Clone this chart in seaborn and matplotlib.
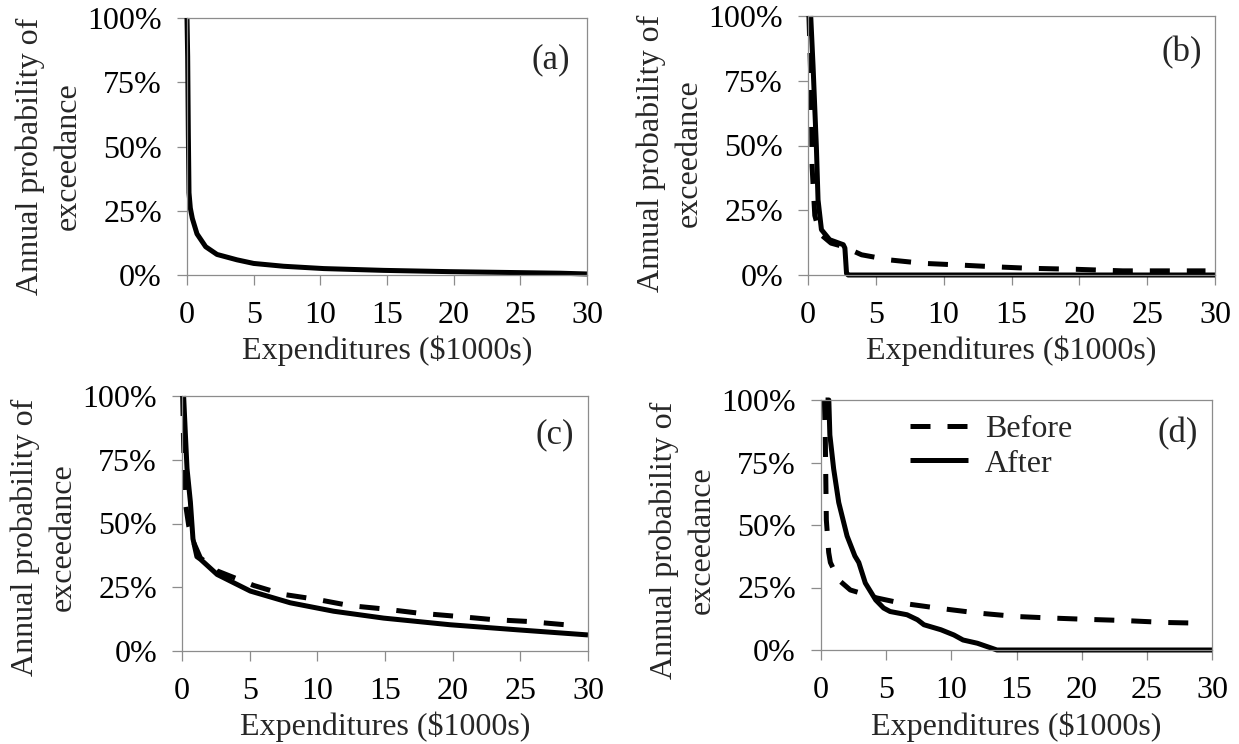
import numpy as np
import pandas as pd
import matplotlib
matplotlib.use("Agg")
import matplotlib.pyplot as plt
from matplotlib.lines import Line2D
from matplotlib.ticker import FuncFormatter
import seaborn as sns

sns.set_style("white")
plt.rcParams['font.family'] = ['Liberation Serif', 'DejaVu Serif']

# ---------------- data (x in $1000s, y in % annual exceedance probability) -------------
a_after_x = [0.0, 0.05, 0.1, 0.15, 0.25, 0.4, 0.75, 1.4, 2.25, 3.75, 5.0, 7.25, 10.25, 14.75, 19.75, 28.0, 30.0]
a_after_y = [100, 85, 55, 32, 26, 22, 16, 11, 8, 5.9, 4.5, 3.4, 2.5, 1.8, 1.3, 0.7, 0.4]

b_before_x = [0.07, 0.25, 0.3, 0.5, 0.86, 1.7, 2.6, 3.95, 6.05, 8.5, 11.0, 13.6, 16.3, 19.75, 23.2, 25.9, 28.6, 29.3]
b_before_y = [100, 68, 42, 23, 16, 12.3, 11, 7.8, 5.8, 4.5, 3.9, 3.2, 2.6, 2.2, 1.6, 1.6, 1.6, 1.6]
b_after_x = [0.2, 0.37, 0.62, 0.74, 0.99, 1.6, 2.6, 2.72, 2.84, 2.96, 30.0]
b_after_y = [100, 81, 49, 29, 17.5, 13.6, 11.7, 10.4, 0.6, 0.0, 0.0]

c_before_x = [0.05, 0.12, 0.25, 0.5, 0.86, 1.36, 2.6, 5.3, 7.5, 10.0, 12.4, 14.9, 17.4, 20.3, 23.0, 25.5, 28.3, 29.0]
c_before_y = [100, 81, 58, 49, 42.6, 36.5, 31.4, 25.7, 22.2, 20.2, 17.8, 16.5, 14.9, 13.6, 12.3, 11.6, 10.3, 10.2]
c_after_x = [0.12, 0.25, 0.37, 0.62, 0.81, 1.1, 1.36, 2.6, 5.05, 8.0, 11.2, 14.9, 19.8, 24.8, 30.0]
c_after_y = [100, 85, 71.6, 58.4, 44, 37, 36, 30, 23.5, 18.9, 15.6, 12.9, 10.3, 8.3, 6.3]

d_before_x = [0.26, 0.33, 0.36, 0.41, 0.59, 0.72, 1.36, 2.25, 4.3, 6.1, 8.9, 12.0, 15.0, 17.6, 20.2, 23.2, 26.5, 29.4]
d_before_y = [100, 85, 72, 52, 39, 35, 28, 24, 20.8, 18.8, 16.8, 14.8, 13.4, 12.8, 12.3, 11.8, 11.0, 10.7]
d_after_x = [0.35, 0.6, 0.68, 0.97, 1.36, 2.0, 2.6, 2.9, 3.4, 4.2, 4.8, 5.3, 6.6, 7.4, 7.9, 9.2, 10.2, 10.9, 12.0, 13.0, 13.5, 30.0]
d_after_y = [100, 100, 86, 72.5, 59, 45.6, 37.6, 35, 26.8, 20, 16.8, 15.4, 14.1, 12.1, 10.1, 8.1, 6.0, 4.0, 2.7, 0.9, 0.0, 0.0]

series_names = ["Before", "After"]
panel_labels = ["(a)", "(b)", "(c)", "(d)"]
x_ticks = [0, 5, 10, 15, 20, 25, 30]
y_ticks = [0, 25, 50, 75, 100]
x_label = "Expenditures ($1000s)"
y_label = "Annual probability of\nexceedance"


def frame(pairs):
    rows = []
    for name, xs, ys in pairs:
        for i, (x, y) in enumerate(zip(xs, ys)):
            rows.append({"Series": name, "x": x, "y": y, "order": i})
    return pd.DataFrame(rows)


panels = [
    frame([("After", a_after_x, a_after_y)]),
    frame([("Before", b_before_x, b_before_y), ("After", b_after_x, b_after_y)]),
    frame([("Before", c_before_x, c_before_y), ("After", c_after_x, c_after_y)]),
    frame([("Before", d_before_x, d_before_y), ("After", d_after_x, d_after_y)]),
]

W, H = 1239, 744
fig = plt.figure(figsize=(W / 100, H / 100), dpi=100)

# axes boxes in pixels: left, right, top, bottom
boxes = [(187, 587, 18, 275), (808, 1215, 16, 275), (182, 588, 396, 651), (821, 1212, 400, 650)]
label_pos = [(0.91, 0.837), (0.919, 0.857), (0.919, 0.847), (0.913, 0.864)]
ylabel_shift = [10, 8, 14, 15]  # pixels downward of the y-label centre

GRAY = "#8c8c8c"
FS = 23
LW = 3.6
DASH = (4.0, 3.4)

for idx, (df, (l, r, t, b)) in enumerate(zip(panels, boxes)):
    ax = fig.add_axes([l / W, 1 - b / H, (r - l) / W, (b - t) / H])
    present = [s for s in series_names if s in df["Series"].unique()]
    sns.lineplot(data=df, x="x", y="y", style="Series", style_order=present,
                 dashes={"Before": DASH, "After": ""}, color="black",
                 linewidth=LW, sort=False, estimator=None, legend=False, ax=ax)
    for ln in ax.get_lines():
        ln.set_clip_on(False)
        ln.set_solid_capstyle("butt")
        ln.set_dash_capstyle("butt")
        ln.set_solid_joinstyle("round")
    ax.set_xlim(0, 30)
    ax.set_ylim(0, 100)
    ax.set_xticks(x_ticks)
    ax.set_yticks(y_ticks)
    ax.yaxis.set_major_formatter(FuncFormatter(lambda v, p: f"{v:.0f}%"))
    for sp in ax.spines.values():
        sp.set_visible(True)
        sp.set_color(GRAY)
        sp.set_linewidth(0.9)
    ax.tick_params(axis="both", which="major", direction="out", length=7, width=0.9,
                   color=GRAY, labelsize=FS, labelcolor="black", bottom=True, left=True)
    ax.tick_params(axis="x", pad=12)
    ax.tick_params(axis="y", pad=11)
    ax.set_xlabel(x_label, fontsize=FS)
    ax.set_ylabel(y_label, fontsize=FS, linespacing=1.4)
    ax.xaxis.set_label_coords(0.5, -61 / (b - t))
    ax.yaxis.set_label_coords(-104 / (r - l), 0.5 - ylabel_shift[idx] / (b - t))
    ax.text(label_pos[idx][0], label_pos[idx][1], panel_labels[idx], transform=ax.transAxes,
            ha="center", va="center", fontsize=25)
    if idx == 3:
        handles = [Line2D([], [], color="black", lw=LW, dashes=DASH, dash_capstyle="butt"),
                   Line2D([], [], color="black", lw=LW, solid_capstyle="butt")]
        ax.legend(handles, series_names, loc="upper left", bbox_to_anchor=(0.228, 0.94),
                  frameon=False, fontsize=FS, handlelength=1.8, handletextpad=0.55,
                  labelspacing=0.15, borderpad=0, borderaxespad=0)

fig.savefig("out.png", dpi=100)
